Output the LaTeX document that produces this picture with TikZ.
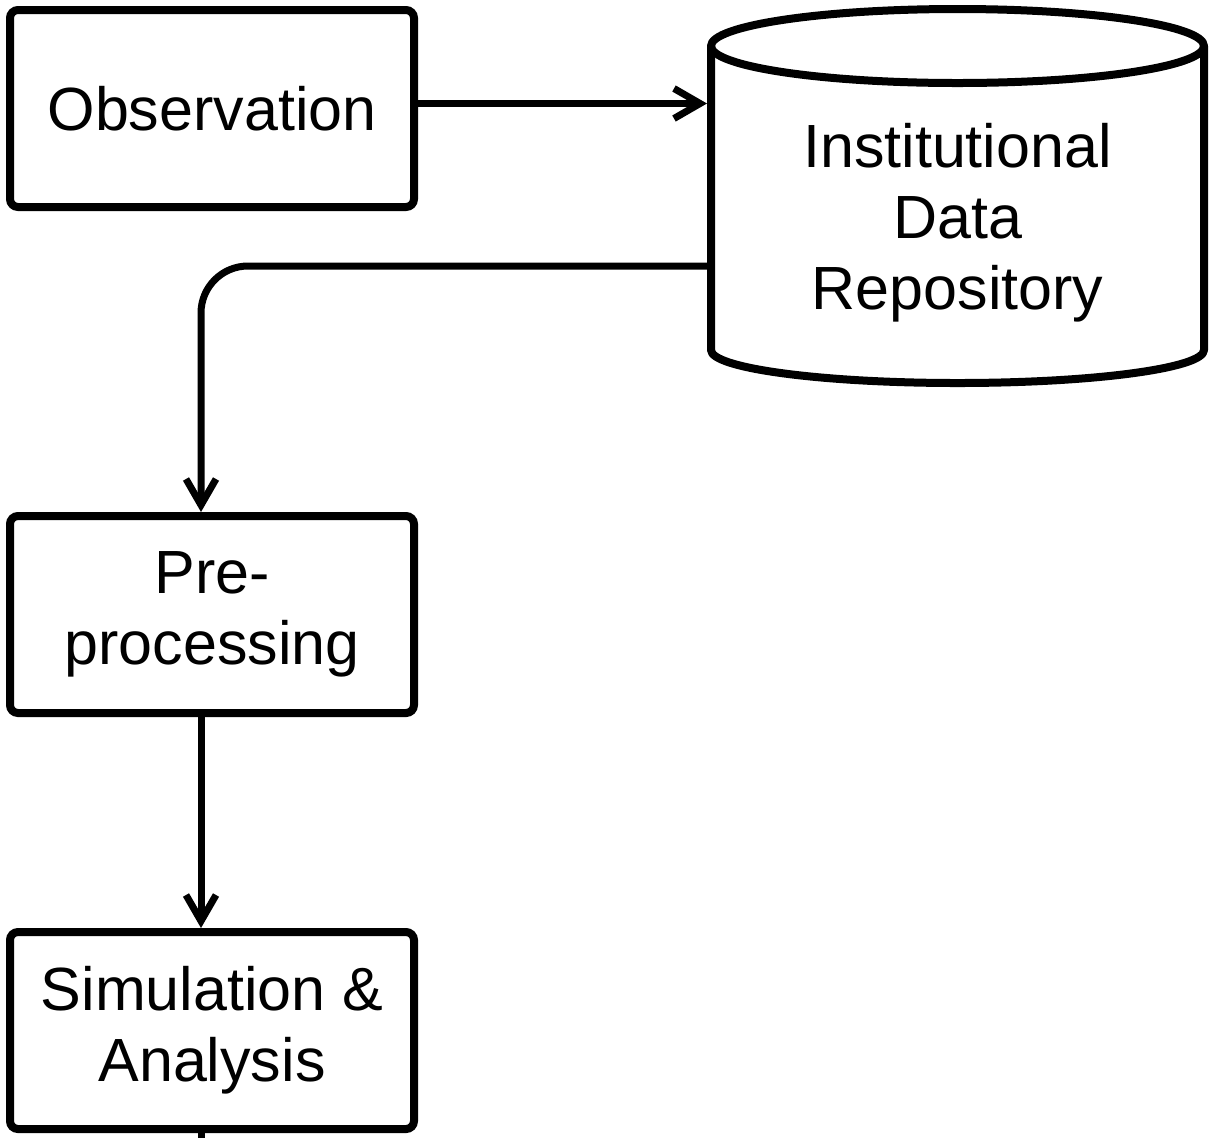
\documentclass[tikz,border=0pt]{standalone}
\usepackage{fontspec}
\setmainfont{Liberation Sans}
\usetikzlibrary{arrows.meta}
\newcommand\lbl{\fontsize{30.5}{35.5}\selectfont}
\begin{document}
\begin{tikzpicture}[x=0.5pt,y=-0.5pt,
  box/.style={draw, line width=4pt, rounded corners=4pt, minimum width=202pt,
    minimum height=98.5pt, align=center, inner sep=0pt, font=\lbl},
  flow/.style={line width=3.5pt, -{Straight Barb[length=13pt,width=15pt]}},
  rim/.style={line width=4pt, line join=round},
]
\useasboundingbox (0,0) rectangle (1229,1137);

% process boxes
\node[box] (obs) at (212,108.5) {Observation};
\node[box] (pre) at (212,614.5) {Pre-\\processing};
\node[box] (sim) at (212,1030.5) {Simulation \&\\Analysis};

% data repository (cylinder)
\node[minimum width=246.5pt, minimum height=152pt, inner sep=0pt, outer sep=2pt]
  (repo) at (957.5,198) {};
\draw[rim] (957.5,46) ellipse [x radius=246.5, y radius=37];
\draw[rim] (711,46) -- (711,350) arc[start angle=180, end angle=0, x radius=246.5, y radius=33] -- (1204,46);
\node[align=center, font=\lbl] (repotxt) at (957.5,223) {Institutional\\Data\\Repository};

% connectors
\coordinate (out) at (201,1145);
\draw[flow] ([yshift=2.5pt]obs.east) -- ([yshift=2.5pt]obs.east -| repo.west);
\draw[flow, rounded corners=23.5pt] ([yshift=-34pt]repo.west) -| ([xshift=-5.5pt]pre.north);
\draw[flow] ([xshift=-5.5pt]pre.south) -- ([xshift=-5.5pt]sim.north);
\draw[line width=3.5pt] ([xshift=-5.5pt]sim.south) -- (out);
\end{tikzpicture}
\end{document}
